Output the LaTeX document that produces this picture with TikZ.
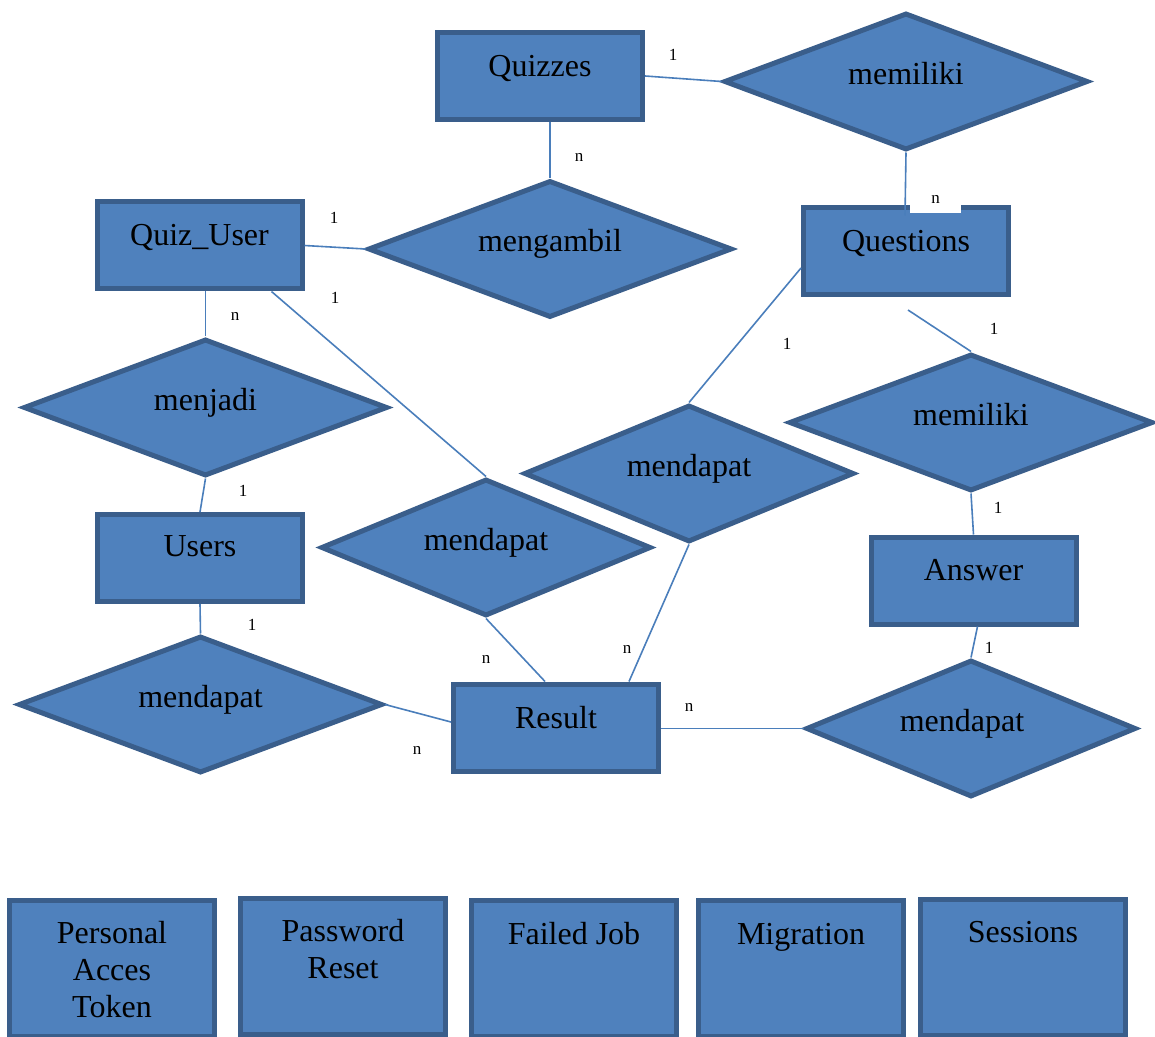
\documentclass[tikz,border=0pt]{standalone}
\usepackage{fontspec}
\setmainfont{Liberation Serif}
\usetikzlibrary{shapes.geometric,calc}
\definecolor{efill}{HTML}{4F81BD}
\definecolor{eborder}{HTML}{3A5E8B}
\definecolor{eline}{HTML}{4A7EBB}
\tikzset{
  ent/.style={draw=eborder,fill=efill,line width=2.5pt,rectangle,inner sep=0pt,minimum width=102.5pt,minimum height=43.5pt},
  tall/.style={ent,minimum height=68pt},
  rel/.style={draw=eborder,fill=efill,line width=2.5pt,diamond,inner sep=0pt,minimum width=182pt,minimum height=68.5pt},
  relsm/.style={rel,minimum width=165pt},
  txt/.style={font=\fontsize{16}{18.5}\selectfont,inner sep=0pt,anchor=base,align=center},
  card/.style={font=\fontsize{8.5}{10}\selectfont,inner sep=0pt},
  conn/.style={draw=eline,line width=0.8pt}
}
\begin{document}
\begin{tikzpicture}[x=0.5pt,y=-0.5pt]
\useasboundingbox (0,0) rectangle (1155,1037);
% entities
\node[ent] (quizzes) at (540,76) {};
\node[ent] (quizuser) at (199.5,245.5) {};
\node[ent] (questions) at (906,251) {};
\node[ent] (users) at (200,558) {};
\node[ent] (answer) at (973.5,580.5) {};
\node[ent] (result) at (556,727.5) {};
\node[tall] (pat) at (112,968.5) {};
\node[tall] (pwr) at (343,966.5) {};
\node[tall] (fjob) at (574,968.5) {};
\node[tall] (migr) at (801,968.5) {};
\node[tall] (sess) at (1023,967.5) {};
% relationships
\node[rel] (memA) at (906,81.5) {};
\node[rel] (mengambil) at (550,249) {};
\node[rel] (menjadi) at (205.5,407.5) {};
\node[relsm] (mendA) at (486,547.5) {};
\node[relsm] (mendB) at (689,473.5) {};
\node[rel] (memB) at (971,422.5) {};
\node[rel] (mendBL) at (200.5,704.5) {};
\node[relsm] (mendBR) at (971,728.5) {};
% texts
\node[txt] (t1) at ($(quizzes.north)+(0,46.5)$) {Quizzes};
\node[txt] (t2) at ($(quizuser.north)+(0,46.5)$) {Quiz\_User};
\node[txt] (t3) at ($(questions.north)+(0,46.5)$) {Questions};
\node[txt] (t4) at ($(users.north)+(0,44)$) {Users};
\node[txt] (t5) at ($(answer.north)+(0,45.5)$) {Answer};
\node[txt] (t6) at ($(result.north)+(0,46.5)$) {Result};
\node[txt] (t7) at ($(pat.north)+(0,119)$) {Personal\\Acces\\Token};
\node[txt] (t8) at ($(pwr.north)+(0,82)$) {Password\\Reset};
\node[txt] (t9) at ($(fjob.north)+(0,46)$) {Failed Job};
\node[txt] (t10) at ($(migr.north)+(0,46)$) {Migration};
\node[txt] (t11) at ($(sess.north)+(0,45.5)$) {Sessions};
\node[txt] (r1) at ($(memA.center)+(0,3)$) {memiliki};
\node[txt] (r2) at ($(mengambil.center)+(0,3)$) {mengambil};
\node[txt] (r3) at ($(menjadi.center)+(0,3)$) {menjadi};
\node[txt] (r4) at ($(mendA.center)+(0,3)$) {mendapat};
\node[txt] (r5) at ($(mendB.center)+(0,3)$) {mendapat};
\node[txt] (r6) at ($(memB.center)+(0,3)$) {memiliki};
\node[txt] (r7) at ($(mendBL.center)+(0,3)$) {mendapat};
\node[txt] (r8) at ($(mendBR.center)+(-9,3)$) {mendapat};
% white label box over Questions
\node[card,fill=white,minimum width=25.5pt,minimum height=14pt] (nq) at (935.5,199) {n};
\coordinate (qb) at (908,310);
% connectors
\draw[conn] (quizzes.east) -- (memA.west);
\draw[conn] (memA.south) -- ($(questions.north)+(-1,10.5)$);
\draw[conn] (mengambil.north |- quizzes.south) -- (mengambil.north);
\draw[conn] (quizuser.east) -- (mengambil.west);
\draw[conn] (menjadi.north |- quizuser.south) -- (menjadi.north);
\draw[conn] ($(quizuser.south)+(72,0)$) -- (mendA.north);
\draw[conn] (menjadi.south) -- (users.north);
\draw[conn] (users.south) -- (mendBL.north);
\draw[conn] (mendBL.east) -- ($(result.west)+(0,-5.5)$);
\draw[conn] (mendA.south) -- ($(result.north)+(-11,0)$);
\draw[conn] (mendB.north) -- ($(questions.west)+(0,17)$);
\draw[conn] (mendB.south) -- ($(result.north)+(73,0)$);
\draw[conn] (qb) -- (memB.north);
\draw[conn] (memB.south) -- (answer.north);
\draw[conn] ($(answer.south)+(4,0)$) -- (mendBR.north);
\draw[conn] ($(result.east)+(0,1)$) -- (mendBR.west);
% cardinalities
\node[card] (c1) at (673,55) {1};
\node[card] (c2) at (579,157) {n};
\node[card] (c3) at (334,218) {1};
\node[card] (c4) at (235,316) {n};
\node[card] (c5) at (335,298) {1};
\node[card] (c6) at (243,491) {1};
\node[card] (c7) at (252,625) {1};
\node[card] (c8) at (417,750) {n};
\node[card] (c9) at (486,659) {n};
\node[card] (c10) at (787,344) {1};
\node[card] (c11) at (627,649) {n};
\node[card] (c12) at (994,329) {1};
\node[card] (c13) at (998,508) {1};
\node[card] (c14) at (989,648) {1};
\node[card] (c15) at (689,707) {n};
\end{tikzpicture}
\end{document}
